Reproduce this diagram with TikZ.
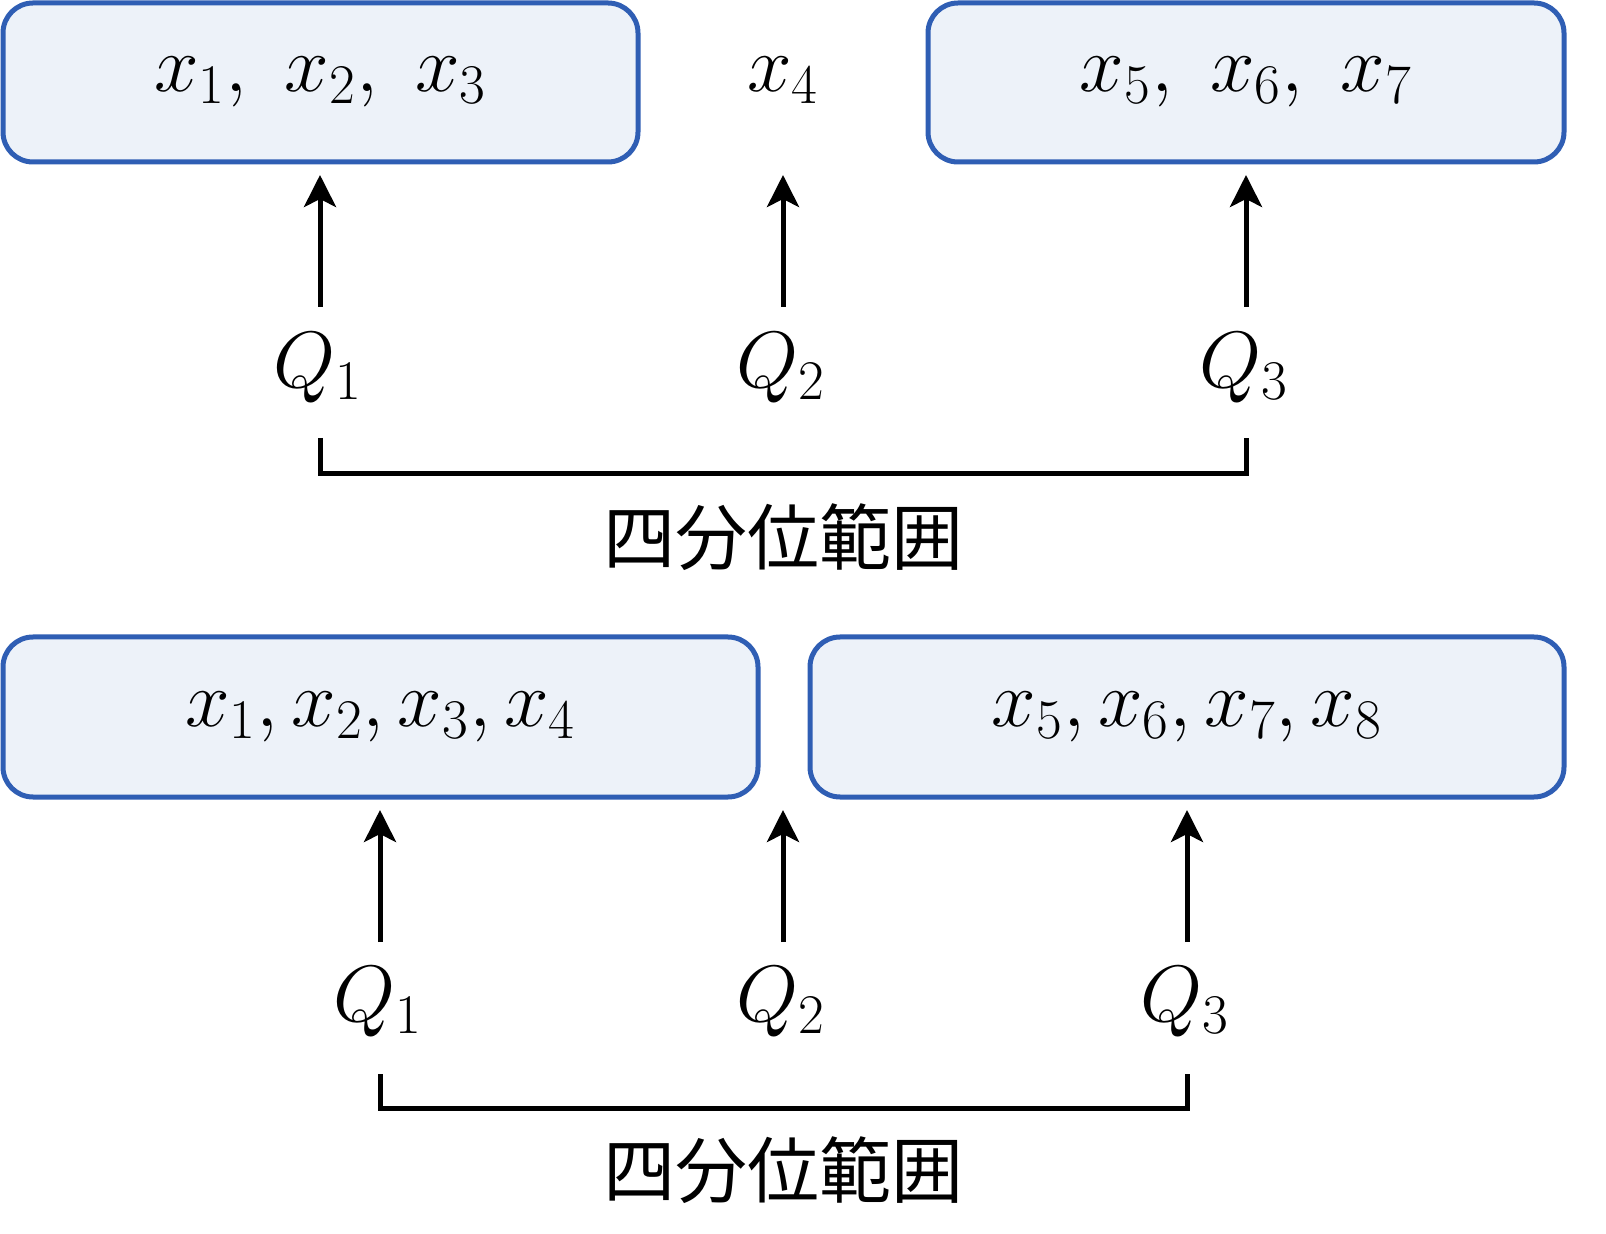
\RequirePackage{fix-cm}
\documentclass[tikz,border=0pt]{standalone}
\usepackage{fontspec}
\newfontfamily\cjk{Noto Sans CJK JP}
\usetikzlibrary{arrows.meta}
\begin{document}
\begin{tikzpicture}[x=0.5pt,y=-0.5pt,
  box/.style={draw={rgb,255:red,47;green,94;blue,180}, line width=2.5pt, rounded corners=15pt, fill={rgb,255:red,237;green,242;blue,249}},
  lab/.style={font=\fontsize{40}{45}\selectfont},
  arr/.style={line width=2.5pt,-{Stealth[length=16pt,width=16pt,inset=4pt]}},
  brk/.style={line width=2.5pt},
  jp/.style={font=\cjk\fontsize{36}{40}\selectfont}]
\useasboundingbox (0,0) rectangle (1606,1234);
% top
\node[box,minimum width=317.5pt,minimum height=79.5pt] (b1) at (320.5,82.5) {};
\node[lab] at (b1) {$x_1,\ x_2,\ x_3$};
\node[lab] (x4) at (783,80) {$x_4$};
\node[box,minimum width=318pt,minimum height=79.5pt] (b2) at (1246,82.5) {};
\node[lab] at (b2) {$x_5,\ x_6,\ x_7$};
\node[lab] (q1) at (318,368) {$Q_1$};
\node[lab] (q2) at (781,368) {$Q_2$};
\node[lab] (q3) at (1244,368) {$Q_3$};
\coordinate (a1) at (320,307); \coordinate (e1) at (320,175);
\coordinate (a2) at (783,307); \coordinate (e2) at (783,175);
\coordinate (a3) at (1246,307); \coordinate (e3) at (1246,175);
\draw[arr] (a1) -- (e1); \draw[arr] (a2) -- (e2); \draw[arr] (a3) -- (e3);
\coordinate (k1) at (320,438); \coordinate (k2) at (1246,438);
\draw[brk] (k1) -- (320,474) -- (1246,474) -- (k2);
\node[jp] (t1) at (783,537) {四分位範囲};
% bottom
\node[box,minimum width=377.5pt,minimum height=80pt] (c1) at (380.5,717) {};
\node[lab] at (c1) {$x_1,x_2,x_3,x_4$};
\node[box,minimum width=377pt,minimum height=80pt] (c2) at (1187,717) {};
\node[lab] at (c2) {$x_5,x_6,x_7,x_8$};
\node[lab] (r1) at (378,1002) {$Q_1$};
\node[lab] (r2) at (781,1002) {$Q_2$};
\node[lab] (r3) at (1185,1002) {$Q_3$};
\coordinate (d1) at (380,942); \coordinate (f1) at (380,810);
\coordinate (d2) at (783,942); \coordinate (f2) at (783,810);
\coordinate (d3) at (1187,942); \coordinate (f3) at (1187,810);
\draw[arr] (d1) -- (f1); \draw[arr] (d2) -- (f2); \draw[arr] (d3) -- (f3);
\coordinate (m1) at (380,1074); \coordinate (m2) at (1187,1074);
\draw[brk] (m1) -- (380,1108) -- (1187,1108) -- (m2);
\node[jp] (t2) at (783,1170) {四分位範囲};
\end{tikzpicture}
\end{document}
